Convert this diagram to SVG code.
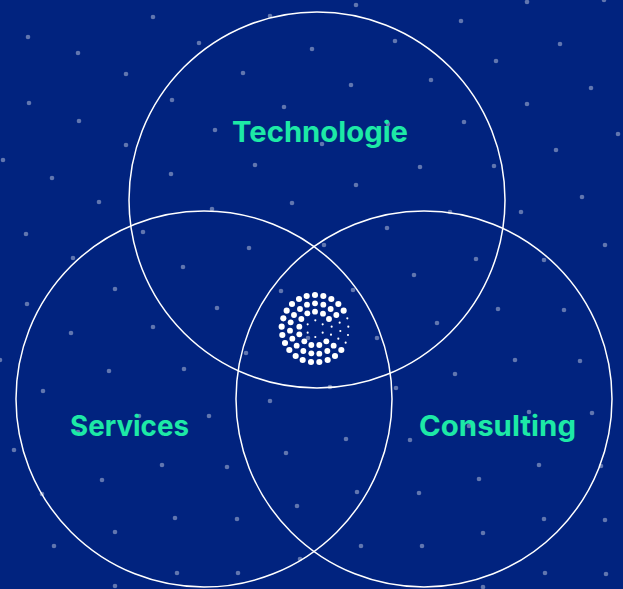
<svg xmlns="http://www.w3.org/2000/svg" width="623" height="589" viewBox="0 0 623 589">
<style>
.bg{fill:#01237f}
.d circle{r:2.3px;fill:#fff;fill-opacity:.38}
.ring{fill:none;stroke:#fff;stroke-width:1.5}
.lbl{font-family:"Inter","Liberation Sans",sans-serif;font-weight:700;font-size:28.5px;fill:#1de9a6}
.a circle{fill:#fff}
.a .l{r:9.2px}
.a .m{r:8.8px}
.a .s{r:3.2px}
</style>
<rect class="bg" width="623" height="589"/>
<g id="stars" class="d">
<circle cx="28" cy="37"/><circle cx="78" cy="53"/><circle cx="126" cy="74"/><circle cx="153" cy="17"/><circle cx="199" cy="43"/><circle cx="270" cy="16"/><circle cx="312" cy="49"/><circle cx="243" cy="73"/><circle cx="172" cy="100"/><circle cx="29" cy="103"/><circle cx="79" cy="121"/><circle cx="126" cy="145"/><circle cx="215" cy="130"/><circle cx="284" cy="107"/><circle cx="3" cy="160"/><circle cx="52" cy="178"/><circle cx="171" cy="174"/><circle cx="255" cy="165"/><circle cx="99" cy="202"/><circle cx="292" cy="203"/><circle cx="212" cy="209"/><circle cx="26" cy="234"/><circle cx="143" cy="232"/><circle cx="249" cy="248"/><circle cx="73" cy="258"/><circle cx="183" cy="267"/><circle cx="115" cy="289"/><circle cx="281" cy="291"/>
<circle cx="356" cy="5"/><circle cx="527" cy="2"/><circle cx="604" cy="0"/><circle cx="461" cy="21"/><circle cx="560" cy="44"/><circle cx="395" cy="41"/><circle cx="496" cy="61"/><circle cx="351" cy="85"/><circle cx="431" cy="80"/><circle cx="591" cy="88"/><circle cx="527" cy="104"/><circle cx="464" cy="122"/><circle cx="388" cy="124"/><circle cx="618" cy="134"/><circle cx="322" cy="144"/><circle cx="556" cy="150"/><circle cx="420" cy="167"/><circle cx="494" cy="166"/><circle cx="356" cy="185"/><circle cx="582" cy="197"/><circle cx="450" cy="212"/><circle cx="521" cy="212"/><circle cx="387" cy="228"/><circle cx="324" cy="245"/><circle cx="605" cy="245"/><circle cx="476" cy="259"/><circle cx="544" cy="260"/><circle cx="414" cy="275"/><circle cx="353" cy="290"/>
<circle cx="27" cy="304"/><circle cx="217" cy="308"/><circle cx="71" cy="333"/><circle cx="153" cy="327"/><circle cx="0" cy="360"/><circle cx="246" cy="353"/><circle cx="308" cy="338"/><circle cx="109" cy="371"/><circle cx="184" cy="369"/><circle cx="43" cy="391"/><circle cx="270" cy="401"/><circle cx="139" cy="416"/><circle cx="209" cy="416"/><circle cx="78" cy="432"/><circle cx="14" cy="450"/><circle cx="286" cy="453"/><circle cx="162" cy="465"/><circle cx="227" cy="467"/><circle cx="102" cy="480"/><circle cx="42" cy="494"/><circle cx="297" cy="506"/><circle cx="175" cy="518"/><circle cx="237" cy="519"/><circle cx="115" cy="532"/><circle cx="54" cy="546"/><circle cx="300" cy="559"/><circle cx="177" cy="573"/><circle cx="238" cy="573"/><circle cx="115" cy="586"/>
<circle cx="498" cy="309"/><circle cx="564" cy="310"/><circle cx="437" cy="323"/><circle cx="377" cy="338"/><circle cx="515" cy="360"/><circle cx="580" cy="361"/><circle cx="455" cy="374"/><circle cx="330" cy="387"/><circle cx="396" cy="388"/><circle cx="529" cy="412"/><circle cx="592" cy="413"/><circle cx="469" cy="426"/><circle cx="346" cy="439"/><circle cx="410" cy="440"/><circle cx="539" cy="465"/><circle cx="601" cy="466"/><circle cx="479" cy="479"/><circle cx="357" cy="492"/><circle cx="419" cy="493"/><circle cx="544" cy="519"/><circle cx="605" cy="520"/><circle cx="483" cy="533"/><circle cx="361" cy="546"/><circle cx="422" cy="546"/><circle cx="545" cy="573"/><circle cx="606" cy="574"/><circle cx="483" cy="587"/>
</g>
<g id="node-technologie"><circle class="ring" cx="317" cy="200" r="188"/><text class="lbl" x="232" y="142" textLength="176" lengthAdjust="spacingAndGlyphs">Technologie</text></g>
<g id="node-services"><circle class="ring" cx="204" cy="399" r="188"/><text class="lbl" x="70" y="436" textLength="119" lengthAdjust="spacingAndGlyphs">Services</text></g>
<g id="node-consulting"><circle class="ring" cx="424" cy="399" r="188"/><text class="lbl" x="419" y="436" textLength="157" lengthAdjust="spacingAndGlyphs">Consulting</text></g>
<g id="logo" class="a">
<g transform="translate(260 280) scale(.3333)">
<circle class="l" cx="165" cy="45"/><circle class="l" cx="140" cy="48"/><circle class="l" cx="190" cy="48"/><circle class="l" cx="117" cy="57"/><circle class="l" cx="214" cy="57"/><circle class="l" cx="96" cy="72"/><circle class="l" cx="235" cy="72"/><circle class="l" cx="80" cy="92"/><circle class="l" cx="251" cy="92"/><circle class="l" cx="70" cy="115"/><circle class="l" cx="65" cy="140"/><circle class="l" cx="67" cy="165"/><circle class="l" cx="75" cy="189"/><circle class="l" cx="88" cy="210"/><circle class="l" cx="107" cy="228"/><circle class="l" cx="128" cy="240"/><circle class="l" cx="153" cy="246"/><circle class="l" cx="178" cy="246"/><circle class="l" cx="203" cy="240"/><circle class="l" cx="225" cy="228"/><circle class="l" cx="244" cy="210"/>
<circle class="m" cx="165" cy="70"/><circle class="m" cx="141" cy="74"/><circle class="m" cx="190" cy="74"/><circle class="m" cx="120" cy="87"/><circle class="m" cx="212" cy="87"/><circle class="m" cx="102" cy="105"/><circle class="m" cx="229" cy="105"/><circle class="m" cx="92" cy="127"/><circle class="m" cx="90" cy="152"/><circle class="m" cx="97" cy="176"/><circle class="m" cx="110" cy="197"/><circle class="m" cx="130" cy="213"/><circle class="m" cx="154" cy="220"/><circle class="m" cx="178" cy="221"/><circle class="m" cx="202" cy="213"/><circle class="m" cx="221" cy="197"/>
<circle class="m" cx="165" cy="95"/><circle class="m" cx="142" cy="100"/><circle class="m" cx="189" cy="101"/><circle class="m" cx="124" cy="117"/><circle class="m" cx="207" cy="117"/><circle class="m" cx="118" cy="140"/><circle class="m" cx="118" cy="163"/><circle class="m" cx="133" cy="184"/><circle class="m" cx="154" cy="195"/><circle class="m" cx="178" cy="195"/><circle class="m" cx="199" cy="184"/>
<circle class="s" cx="166" cy="121"/><circle class="s" cx="143" cy="133"/><circle class="s" cx="188" cy="133"/><circle class="s" cx="215" cy="140"/><circle class="s" cx="143" cy="158"/><circle class="s" cx="166" cy="171"/><circle class="s" cx="188" cy="158"/><circle class="s" cx="213" cy="164"/><circle class="s" cx="239" cy="128"/><circle class="s" cx="241" cy="153"/><circle class="s" cx="235" cy="176"/><circle class="s" cx="262" cy="115"/><circle class="s" cx="265" cy="140"/><circle class="s" cx="264" cy="165"/><circle class="s" cx="257" cy="188"/>
</g>
</g>
</svg>
